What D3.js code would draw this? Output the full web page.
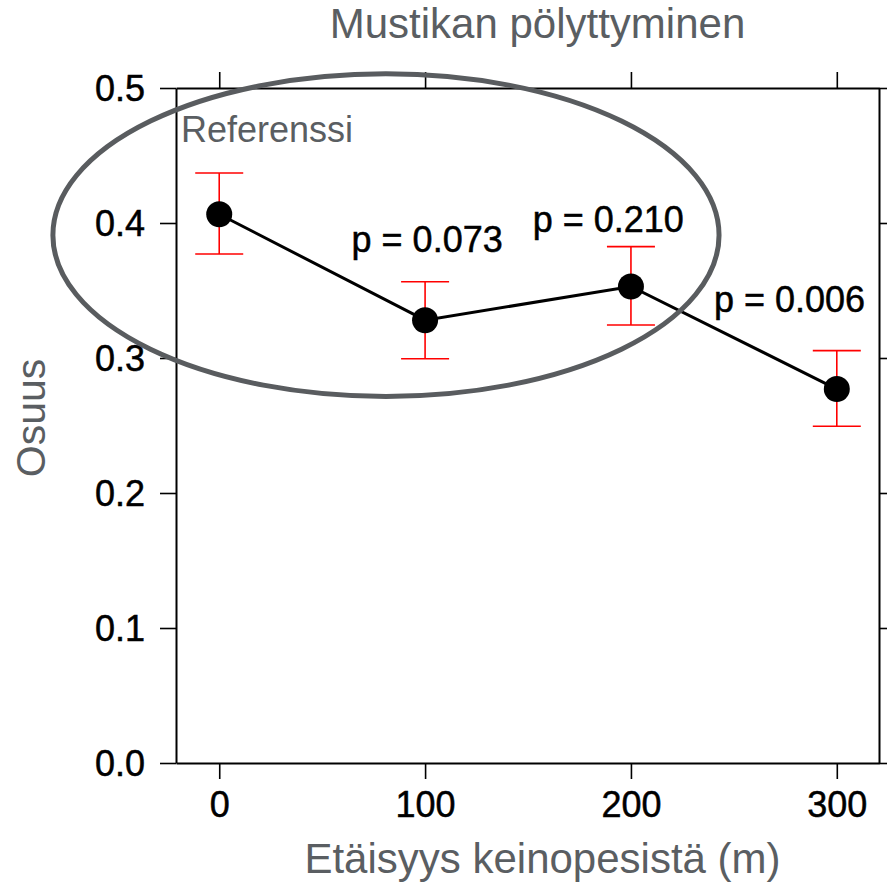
<!DOCTYPE html>
<html>
<head>
<meta charset="utf-8">
<script src="https://cdn.jsdelivr.net/npm/d3@7"></script>
<style>
  html, body { margin: 0; padding: 0; background: #fff; }
  svg { display: block; font-family: "Liberation Sans", Arial, sans-serif; }
</style>
</head>
<body>
<svg id="chart" width="887" height="884"></svg>
<script>
// Distance from the artificial nests (m)
const distances = [0, 100, 200, 300];
// Proportion pollinated: mean and error-bar limits
const means = [0.4065, 0.328, 0.353, 0.277];
const lower = [0.377, 0.2995, 0.3245, 0.2495];
const upper = [0.437, 0.3565, 0.3825, 0.3055];

const xTicks = [0, 100, 200, 300];
const yTicks = [0, 0.1, 0.2, 0.3, 0.4, 0.5];

// p-value annotations between consecutive distances (data-space anchor)
const pLabels = ["p = 0.073", "p = 0.210", "p = 0.006"];
const pLabelX = [101, 189, 277];
const pLabelY = [0.3785, 0.3935, 0.334];

// Reference group ellipse extents (data space)
const refX = [-80.8, 242.8];
const refY = [0.2715, 0.5105];

const svg = d3.select("#chart");
const grey = "#5a5e62";

const plotL = 176, plotR = 879, plotT = 88, plotB = 763;
const x = d3.scaleLinear().domain([-21, 320.5]).range([plotL, plotR]);
const y = d3.scaleLinear().domain([0, 0.5]).range([plotB, plotT]);

function styleAxis(g) {
  g.select(".domain").attr("stroke", "#000").attr("stroke-width", 2);
  g.selectAll(".tick line").attr("stroke", "#000").attr("stroke-width", 1.6);
  g.selectAll(".tick text")
    .attr("fill", "#000")
    .attr("stroke", "#000")
    .attr("stroke-width", 0.5)
    .attr("font-size", 36)
    .attr("font-family", "'Liberation Sans', Arial, sans-serif");
}

// frame: left / right / top / bottom axes
svg.append("g").attr("transform", `translate(${plotL},0)`)
  .call(d3.axisLeft(y).tickValues(yTicks).tickFormat(d3.format(".1f")).tickSize(16).tickSizeOuter(0).tickPadding(15))
  .call(styleAxis)
  .call(g => g.selectAll(".tick text").attr("dy", "0.36em"));

svg.append("g").attr("transform", `translate(${plotR},0)`)
  .call(d3.axisRight(y).tickValues(yTicks).tickFormat("").tickSize(16).tickSizeOuter(0))
  .call(styleAxis);

svg.append("g").attr("transform", `translate(0,${plotT})`)
  .call(d3.axisTop(x).tickValues(xTicks).tickFormat("").tickSize(16).tickSizeOuter(0))
  .call(styleAxis);

svg.append("g").attr("transform", `translate(0,${plotB})`)
  .call(d3.axisBottom(x).tickValues(xTicks).tickFormat(d3.format("d")).tickSize(16).tickSizeOuter(0).tickPadding(12))
  .call(styleAxis)
  .call(g => g.selectAll(".tick text").attr("dy", "0.71em"));

// error bars
const capHalf = 24;
const eb = svg.append("g").attr("stroke", "#ff0000").attr("stroke-width", 1.6).attr("fill", "none");
distances.forEach((d, i) => {
  eb.append("line").attr("x1", x(d)).attr("x2", x(d)).attr("y1", y(lower[i])).attr("y2", y(upper[i]));
  eb.append("line").attr("x1", x(d) - capHalf).attr("x2", x(d) + capHalf).attr("y1", y(upper[i])).attr("y2", y(upper[i]));
  eb.append("line").attr("x1", x(d) - capHalf).attr("x2", x(d) + capHalf).attr("y1", y(lower[i])).attr("y2", y(lower[i]));
});

// connecting line
const line = d3.line().x((d, i) => x(distances[i])).y(d => y(d));
svg.append("path").datum(means)
  .attr("d", line).attr("fill", "none").attr("stroke", "#000").attr("stroke-width", 3);

// mean markers
svg.append("g").selectAll("circle").data(means).join("circle")
  .attr("cx", (d, i) => x(distances[i]))
  .attr("cy", d => y(d))
  .attr("r", 13)
  .attr("fill", "#000");

// p-value labels
svg.append("g").selectAll("text").data(pLabels).join("text")
  .attr("x", (d, i) => x(pLabelX[i]))
  .attr("y", (d, i) => y(pLabelY[i]))
  .attr("text-anchor", "middle")
  .attr("font-size", 36)
  .attr("fill", "#000")
  .attr("stroke", "#000")
  .attr("stroke-width", 0.5)
  .text(d => d);

// reference group ellipse
svg.append("ellipse")
  .attr("cx", (x(refX[0]) + x(refX[1])) / 2)
  .attr("cy", (y(refY[0]) + y(refY[1])) / 2)
  .attr("rx", (x(refX[1]) - x(refX[0])) / 2)
  .attr("ry", (y(refY[0]) - y(refY[1])) / 2)
  .attr("fill", "none")
  .attr("stroke", "#595c5f")
  .attr("stroke-width", 5);

svg.append("text")
  .attr("x", 181).attr("y", 142)
  .attr("font-size", 36)
  .attr("fill", grey)
  .text("Referenssi");

// titles
svg.append("text")
  .attr("x", 537.5).attr("y", 38)
  .attr("text-anchor", "middle")
  .attr("font-size", 42)
  .attr("fill", grey)
  .text("Mustikan pölyttyminen");

svg.append("text")
  .attr("x", 542.5).attr("y", 873)
  .attr("text-anchor", "middle")
  .attr("font-size", 42)
  .attr("fill", grey)
  .text("Etäisyys keinopesistä (m)");

svg.append("text")
  .attr("transform", "translate(45,418) rotate(-90)")
  .attr("text-anchor", "middle")
  .attr("font-size", 41)
  .attr("fill", grey)
  .text("Osuus");
</script>
</body>
</html>
